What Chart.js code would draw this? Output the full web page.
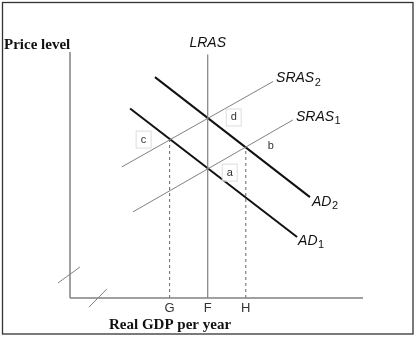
<!DOCTYPE html>
<html>
<head>
<meta charset="utf-8">
<script src="https://cdn.jsdelivr.net/npm/chart.js@4.4.1/dist/chart.umd.min.js"></script>
<style>
  html, body { margin: 0; padding: 0; background: #fff; }
  #wrap { position: relative; width: 416px; height: 338px; }
</style>
</head>
<body>
<div id="wrap"><canvas id="c"></canvas></div>
<script>
// AD-AS diagramma: ikki AD va ikki SRAS egri chizig'i, LRAS vertikal.

// Muvozanat nuqtalari (real YaIM, narx darajasi)
const POINT_NAMES = ["a", "b", "c", "d"];
const POINT_X = [4.7, 6.0, 3.4, 4.7];
const POINT_Y = [5.26, 6.16, 6.44, 7.34];

// Chiziqlarning uchlari
const AD1_X = [2.05, 7.75];
const AD1_Y = [7.7, 2.48];
const AD2_X = [2.9, 8.19];
const AD2_Y = [8.98, 4.1];
const SRAS1_X = [2.15, 7.61];
const SRAS1_Y = [3.5, 7.24];
const SRAS2_X = [1.77, 6.93];
const SRAS2_Y = [5.33, 8.8];
const LRAS_X = [4.7, 4.7];
const LRAS_Y = [0, 9.9];

// X o'qi belgilari
const TICK_LABELS = ["G", "F", "H"];
const TICK_X = [3.4, 4.7, 6.0];

// O'qlar va uzilish belgilari
const AXIS_MAX = 10;
const Y_BREAK = [[-0.41, 0.61], [0.34, 1.26]];
const X_BREAK = [[0.65, -0.37], [1.26, 0.37]];

const GRAY = "#808080";
const pts = (xs, ys) => xs.map((x, i) => ({ x, y: ys[i] }));

function line(data, color, width, dash) {
  return {
    data, borderColor: color, borderWidth: width, borderDash: dash || [],
    pointRadius: 0, showLine: true, fill: false, tension: 0, clip: false,
  };
}

const datasets = [
  line([{ x: 0, y: 0 }, { x: 0, y: AXIS_MAX }], GRAY, 1.5),
  line([{ x: 0, y: 0 }, { x: AXIS_MAX, y: 0 }], GRAY, 1.5),
  line(Y_BREAK.map(([x, y]) => ({ x, y })), GRAY, 1),
  line(X_BREAK.map(([x, y]) => ({ x, y })), GRAY, 1),
  line(pts(LRAS_X, LRAS_Y), GRAY, 1.2),
  line(pts(SRAS1_X, SRAS1_Y), GRAY, 1),
  line(pts(SRAS2_X, SRAS2_Y), GRAY, 1),
  // G va H gacha uzuq chiziqlar (c va b nuqtalaridan)
  line([{ x: POINT_X[2], y: 0 }, { x: POINT_X[2], y: POINT_Y[2] }], "#666", 1, [3, 3]),
  line([{ x: POINT_X[1], y: 0 }, { x: POINT_X[1], y: POINT_Y[1] }], "#666", 1, [3, 3]),
  line(pts(AD1_X, AD1_Y), "#111", 2),
  line(pts(AD2_X, AD2_Y), "#111", 2),
];

const SANS = "'Liberation Sans', Arial, sans-serif";
const SERIF = "'Liberation Serif', 'Times New Roman', serif";

// Matnlar va chegaralar
const labelsPlugin = {
  id: "labels",
  afterDraw(chart) {
    const { ctx } = chart;
    const xs = chart.scales.x, ys = chart.scales.y;
    const px = (v) => xs.getPixelForValue(v);
    const py = (v) => ys.getPixelForValue(v);
    ctx.save();

    // tashqi ramka
    ctx.strokeStyle = "#333";
    ctx.lineWidth = 1.3;
    ctx.strokeRect(2.5, 2.5, 410.5, 331.5);

    ctx.fillStyle = "#111";
    ctx.textBaseline = "middle";

    // o'q nomlari
    ctx.font = `bold 15px ${SERIF}`;
    ctx.textAlign = "left";
    ctx.fillText("Price level", 4, 45);
    ctx.fillText("Real GDP per year", 109, 325);

    // x belgilari
    ctx.font = `13px ${SANS}`;
    ctx.fillStyle = "#333";
    ctx.textAlign = "center";
    TICK_LABELS.forEach((t, i) => ctx.fillText(t, px(TICK_X[i]), py(0) + 10));

    // egri chiziq nomlari (kursiv, pastki indeks bilan)
    const curve = (main, sub, x, y, align) => {
      ctx.font = `italic 14px ${SANS}`;
      const w = ctx.measureText(main).width;
      ctx.font = `11px ${SANS}`;
      const sw = sub ? ctx.measureText(sub).width : 0;
      let x0 = align === "center" ? x - (w + sw) / 2 : x;
      ctx.textAlign = "left";
      ctx.font = `italic 14px ${SANS}`;
      ctx.fillText(main, x0, y);
      if (sub) {
        ctx.font = `11px ${SANS}`;
        ctx.fillText(sub, x0 + w + 0.5, y + 4);
      }
    };
    ctx.fillStyle = "#111";
    curve("LRAS", "", px(LRAS_X[0]), 43, "center");
    curve("SRAS", "2", px(SRAS2_X[1]) + 3, py(SRAS2_Y[1]) - 3, "left");
    curve("SRAS", "1", px(SRAS1_X[1]) + 3, py(SRAS1_Y[1]) - 3, "left");
    curve("AD", "2", px(AD2_X[1]) + 2, py(AD2_Y[1]) + 5, "left");
    curve("AD", "1", px(AD1_X[1]) + 1, py(AD1_Y[1]) + 4, "left");

    // nuqta belgilari
    const offs = { a: [22, 4, true], b: [25, 0, false], c: [-26, 0, true], d: [26, 0, true] };
    ctx.font = `11px ${SANS}`;
    ctx.textAlign = "center";
    POINT_NAMES.forEach((n, i) => {
      const [dx, dy, box] = offs[n];
      const cx = px(POINT_X[i]) + dx, cy = py(POINT_Y[i]) + dy;
      if (box) {
        ctx.strokeStyle = "#ddd";
        ctx.lineWidth = 1;
        ctx.fillStyle = "#fff";
        ctx.fillRect(cx - 7, cy - 8, 14, 16);
        ctx.strokeRect(cx - 7.5, cy - 8.5, 15, 17);
      }
      ctx.fillStyle = "#333";
      ctx.fillText(n, cx, cy);
    });
    ctx.restore();
  },
};

new Chart(document.getElementById("c"), {
  type: "scatter",
  data: { datasets },
  options: {
    responsive: true,
    maintainAspectRatio: false,
    animation: false,
    layout: { padding: { left: 70, right: 53, top: 52, bottom: 40 } },
    scales: {
      x: { type: "linear", min: 0, max: AXIS_MAX, display: false },
      y: { type: "linear", min: 0, max: AXIS_MAX, display: false },
    },
    plugins: { legend: { display: false }, tooltip: { enabled: false } },
  },
  plugins: [labelsPlugin],
});
</script>
</body>
</html>
